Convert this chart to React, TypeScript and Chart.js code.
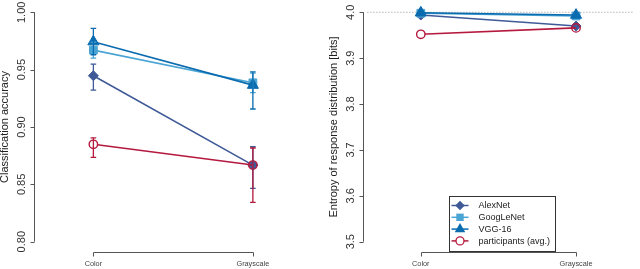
import React, { useEffect, useRef } from 'react';
import { Chart, registerables } from 'chart.js';

Chart.register(...registerables);

// ---------------- data ----------------
const categories = ['Color', 'Grayscale'];
const seriesNames = ['AlexNet', 'GoogLeNet', 'VGG-16', 'participants (avg.)'];
const seriesColors = ['#3F5A97', '#4AA4D4', '#0A6BAF', '#B5193E'];
const seriesPointStyles = ['rectRot', 'rect', 'triangle', 'circle'];
const seriesPointRadius = [5, 5.5, 6.4, 4.2];

// left panel: classification accuracy
const accAlexNet = [0.9447, 0.8668];
const accGoogLeNet = [0.967, 0.9385];
const accVGG = [0.9744, 0.9365];
const accParticipants = [0.8849, 0.8668];
const accAlexNetLow = [0.9322, 0.8465];
const accAlexNetHigh = [0.9549, 0.8828];
const accGoogLeNetLow = [0.96, 0.93];
const accGoogLeNetHigh = [0.974, 0.947];
const accVGGLow = [0.963, 0.9157];
const accVGGHigh = [0.986, 0.948];
const accParticipantsLow = [0.8736, 0.8343];
const accParticipantsHigh = [0.8905, 0.8817];
const accTickValues = [0.8, 0.85, 0.9, 0.95, 1.0];
const accTickLabels = ['0.80', '0.85', '0.90', '0.95', '1.00'];

// right panel: entropy of response distribution
const entAlexNet = [3.994, 3.97];
const entGoogLeNet = [3.998, 3.992];
const entVGG = [3.999, 3.994];
const entParticipants = [3.952, 3.966];
const entReference = 4.0;
const entTickValues = [3.5, 3.6, 3.7, 3.8, 3.9, 4.0];
const entTickLabels = ['3.5', '3.6', '3.7', '3.8', '3.9', '4.0'];

// ---------------- layout ----------------
const FONT = "'Liberation Sans', Arial, Helvetica, sans-serif";
const W = 320;
const H = 269;
const X_MIN = -0.366;
const X_MAX = 1.3644;

function drawMarker(ctx: CanvasRenderingContext2D, style: string, x: number, y: number, r: number) {
  ctx.beginPath();
  if (style === 'rectRot') {
    ctx.moveTo(x, y - r);
    ctx.lineTo(x + r, y);
    ctx.lineTo(x, y + r);
    ctx.lineTo(x - r, y);
    ctx.closePath();
  } else if (style === 'rect') {
    const s = r * Math.SQRT1_2;
    ctx.rect(x - s, y - s, 2 * s, 2 * s);
  } else if (style === 'triangle') {
    let a = 0;
    ctx.moveTo(x + Math.sin(a) * r, y - Math.cos(a) * r);
    a += (2 * Math.PI) / 3;
    ctx.lineTo(x + Math.sin(a) * r, y - Math.cos(a) * r);
    a += (2 * Math.PI) / 3;
    ctx.lineTo(x + Math.sin(a) * r, y - Math.cos(a) * r);
    ctx.closePath();
  } else {
    ctx.arc(x, y, r, 0, Math.PI * 2);
  }
}

const rStyle = {
  id: 'rStyle',
  afterDatasetsDraw(chart: any) {
    const ctx = chart.ctx;
    const xs = chart.scales.x;
    const ys = chart.scales.y;
    ctx.save();
    chart.data.datasets.forEach((ds: any) => {
      if (!ds.errLow) return;
      ctx.strokeStyle = ds.borderColor;
      ctx.lineWidth = 1.3;
      ds.data.forEach((p: any, j: number) => {
        const x = xs.getPixelForValue(p.x);
        const y1 = ys.getPixelForValue(ds.errLow[j]);
        const y2 = ys.getPixelForValue(ds.errHigh[j]);
        ctx.beginPath();
        ctx.moveTo(x, y1);
        ctx.lineTo(x, y2);
        ctx.moveTo(x - 2.8, y1);
        ctx.lineTo(x + 2.8, y1);
        ctx.moveTo(x - 2.8, y2);
        ctx.lineTo(x + 2.8, y2);
        ctx.stroke();
      });
    });
    ctx.restore();
  },
  afterDraw(chart: any, _args: any, opts: any) {
    const ctx = chart.ctx;
    const xs = chart.scales.x;
    const ys = chart.scales.y;
    const ca = chart.chartArea;
    ctx.save();
    // y axis (R style)
    const ax = ca.left - 0.5;
    ctx.strokeStyle = '#555';
    ctx.lineWidth = 1;
    ctx.beginPath();
    ctx.moveTo(ax, ys.getPixelForValue(ys.min));
    ctx.lineTo(ax, ys.getPixelForValue(ys.max));
    ys.ticks.forEach((t: any) => {
      const py = Math.round(ys.getPixelForValue(t.value)) + 0.5;
      ctx.moveTo(ax - 4, py);
      ctx.lineTo(ax, py);
    });
    ctx.stroke();
    ctx.fillStyle = '#333';
    ctx.font = `11px ${FONT}`;
    ctx.textAlign = 'center';
    ctx.textBaseline = 'middle';
    ys.ticks.forEach((t: any) => {
      const py = ys.getPixelForValue(t.value);
      ctx.save();
      ctx.translate(ca.left - 12.8, py);
      ctx.rotate(-Math.PI / 2);
      ctx.fillText(t.label, 0, 0);
      ctx.restore();
    });
    // x axis (R style)
    const ay = 252.5;
    const x0 = Math.round(xs.getPixelForValue(0)) + 0.5;
    const x1 = Math.round(xs.getPixelForValue(categories.length - 1)) + 0.5;
    ctx.beginPath();
    ctx.moveTo(x0, ay);
    ctx.lineTo(x1, ay);
    categories.forEach((_c, i) => {
      const px = Math.round(xs.getPixelForValue(i)) + 0.5;
      ctx.moveTo(px, ay);
      ctx.lineTo(px, ay + 4);
    });
    ctx.stroke();

    // legend
    if (opts && opts.legend) {
      const L = opts.legend;
      ctx.strokeStyle = '#333';
      ctx.lineWidth = 1;
      ctx.fillStyle = '#fff';
      ctx.fillRect(L.x, L.y, L.w, L.h);
      ctx.strokeRect(L.x, L.y, L.w, L.h);
      ctx.font = `9px ${FONT}`;
      ctx.textAlign = 'left';
      ctx.textBaseline = 'middle';
      seriesNames.forEach((name, i) => {
        const cy = L.y + L.first + i * L.step;
        const col = seriesColors[i];
        ctx.strokeStyle = col;
        ctx.lineWidth = 1.5;
        ctx.beginPath();
        ctx.moveTo(L.x + L.lineX0, cy);
        ctx.lineTo(L.x + L.lineX1, cy);
        ctx.stroke();
        const mx = L.x + (L.lineX0 + L.lineX1) / 2;
        drawMarker(ctx, seriesPointStyles[i], mx, cy, seriesPointRadius[i] * 0.95);
        if (seriesPointStyles[i] === 'circle') {
          ctx.fillStyle = '#fff';
          ctx.fill();
          ctx.lineWidth = 1.3;
          ctx.stroke();
        } else {
          ctx.fillStyle = col;
          ctx.fill();
        }
        ctx.fillStyle = '#222';
        ctx.fillText(name, L.x + L.textX, cy + 0.5);
      });
    }
    ctx.restore();
  },
};

function makeDatasets(values: number[][], lows: number[][] | null, highs: number[][] | null) {
  const orders = [3, 2, 1, 0];
  return values.map((vals, i) => {
    const isCircle = seriesPointStyles[i] === 'circle';
    return {
      label: seriesNames[i],
      data: vals.map((v, j) => ({ x: j, y: v })),
      borderColor: seriesColors[i],
      backgroundColor: seriesColors[i],
      borderWidth: 1.6,
      pointStyle: seriesPointStyles[i],
      pointRadius: seriesPointRadius[i],
      pointBorderWidth: isCircle ? 1.4 : 1,
      pointBorderColor: seriesColors[i],
      pointBackgroundColor: isCircle ? ['#ffffff', 'rgba(255,255,255,0)'] : seriesColors[i],
      order: orders[i],
      clip: false,
      errLow: lows ? lows[i] : null,
      errHigh: highs ? highs[i] : null,
    } as any;
  });
}

function makeConfig(opts: {
  datasets: any[];
  yMin: number;
  yMax: number;
  tickValues: number[];
  tickLabels: string[];
  title: string;
  padLeft: number;
  padRight: number;
  legend?: any;
}) {
  return {
    type: 'line' as const,
    data: { datasets: opts.datasets },
    plugins: [rStyle],
    options: {
      responsive: false,
      animation: false,
      devicePixelRatio: 1,
      layout: { padding: { left: opts.padLeft, right: opts.padRight, top: 12.3, bottom: 0 } },
      plugins: {
        legend: { display: false },
        tooltip: { enabled: false },
        rStyle: { legend: opts.legend || null },
      },
      scales: {
        x: {
          type: 'linear',
          min: X_MIN,
          max: X_MAX,
          grid: { display: false, drawTicks: false },
          border: { display: false },
          afterBuildTicks: (s: any) => {
            s.ticks = categories.map((_c, i) => ({ value: i }));
          },
          afterFit: (s: any) => {
            s.height = 27.3;
          },
          ticks: {
            callback: (v: any) => categories[v as number],
            font: { size: 7.3, family: FONT },
            color: '#444',
            padding: 18.3,
            maxRotation: 0,
            autoSkip: false,
          },
        },
        y: {
          type: 'linear',
          min: opts.yMin,
          max: opts.yMax,
          grid: { display: false, drawTicks: false },
          border: { display: false },
          afterBuildTicks: (s: any) => {
            s.ticks = opts.tickValues.map((v) => ({ value: v }));
          },
          afterFit: (s: any) => {
            s.width = 35;
          },
          ticks: {
            display: false,
            callback: (_v: any, i: number) => opts.tickLabels[i],
          },
          title: {
            display: true,
            text: opts.title,
            color: '#222',
            font: { size: 11, family: FONT },
            padding: { top: -1.4, bottom: 0 },
          },
        },
      },
    },
  };
}

export default function App() {
  const leftRef = useRef<HTMLCanvasElement>(null);
  const rightRef = useRef<HTMLCanvasElement>(null);

  useEffect(() => {
    Chart.defaults.font.family = FONT;
    const leftDatasets = makeDatasets(
      [accAlexNet, accGoogLeNet, accVGG, accParticipants],
      [accAlexNetLow, accGoogLeNetLow, accVGGLow, accParticipantsLow],
      [accAlexNetHigh, accGoogLeNetHigh, accVGGHigh, accParticipantsHigh]
    );
    const rightDatasets = makeDatasets([entAlexNet, entGoogLeNet, entVGG, entParticipants], null, null);
    rightDatasets.push({
      label: 'reference',
      data: [
        { x: X_MIN + 0.02, y: entReference },
        { x: X_MAX, y: entReference },
      ],
      borderColor: '#b8b8b8',
      borderWidth: 1,
      borderDash: [1.5, 1.5],
      pointRadius: 0,
      order: 10,
      clip: false,
    } as any);

    const left = new Chart(
      leftRef.current as HTMLCanvasElement,
      makeConfig({
        datasets: leftDatasets,
        yMin: 0.8,
        yMax: 1.0,
        tickValues: accTickValues,
        tickLabels: accTickLabels,
        title: 'Classification accuracy',
        padLeft: 0,
        padRight: 9,
      }) as any
    );
    const right = new Chart(
      rightRef.current as HTMLCanvasElement,
      makeConfig({
        datasets: rightDatasets,
        yMin: 3.5,
        yMax: 4.0,
        tickValues: entTickValues,
        tickLabels: entTickLabels,
        title: 'Entropy of response distribution [bits]',
        padLeft: 9,
        padRight: 0,
        legend: { x: 129.5, y: 196.5, w: 106, h: 55, first: 9, step: 11.8, lineX0: 2, lineX1: 19, textX: 29 },
      }) as any
    );
    return () => {
      left.destroy();
      right.destroy();
    };
  }, []);

  return (
    <div style={{ position: 'fixed', left: 0, top: 0, width: 640, height: 269, display: 'flex', background: '#fff' }}>
      <canvas ref={leftRef} width={W} height={H} style={{ width: W, height: H, display: 'block' }} />
      <canvas ref={rightRef} width={W} height={H} style={{ width: W, height: H, display: 'block' }} />
    </div>
  );
}
